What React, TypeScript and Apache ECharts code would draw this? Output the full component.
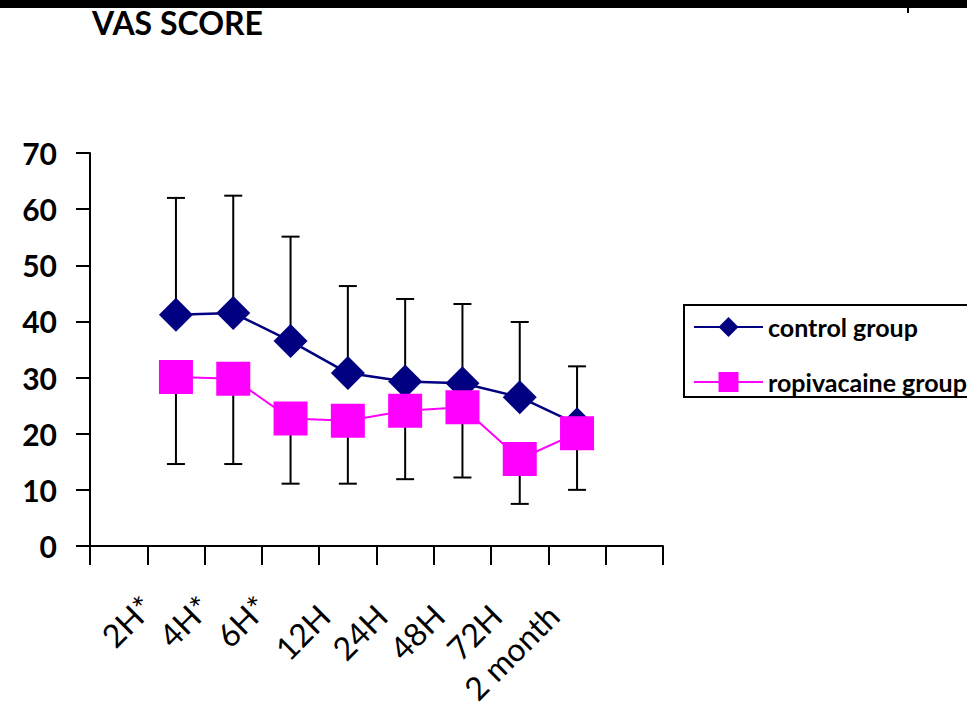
import React, { useEffect, useRef } from 'react';
import * as echarts from 'echarts';

// ---- data ----
const timepoints = ['2H*', '4H*', '6H*', '12H', '24H', '48H', '72H', '2 month'];
const controlMean = [41.2, 41.5, 36.5, 30.8, 29.3, 29.0, 26.5, 21.7];
const controlUpper = [62.0, 62.4, 55.1, 46.3, 44.0, 43.1, 39.9, 32.0];
const ropivacaineMean = [30.1, 29.8, 22.7, 22.3, 24.1, 24.7, 15.5, 20.1];
const ropivacaineLower = [14.6, 14.6, 11.1, 11.1, 11.9, 12.2, 7.5, 10.0];
const seriesNames = ['control group', 'ropivacaine group'];
const yMin = 0;
const yMax = 70;
const yStep = 10;
const titleText = 'VAS SCORE';

const NAVY = '#000080';
const MAGENTA = '#FF00FF';
const INK = '#000000';

// one empty slot on each side of the timepoints, as in the reference
const categories = ['', ...timepoints, ''];
const pad = (arr: number[]) => [null, ...arr, null];

function errorBars(mean: number[], bound: number[]) {
  return mean.map((m, i) => [i + 1, m, bound[i]]);
}

function renderErrorBar(_params: any, api: any) {
  const x = api.value(0);
  const a = api.coord([x, api.value(1)]);
  const b = api.coord([x, api.value(2)]);
  const half = 9;
  return {
    type: 'group',
    children: [
      { type: 'line', shape: { x1: a[0], y1: a[1], x2: b[0], y2: b[1] }, style: { stroke: INK, lineWidth: 2 } },
      { type: 'line', shape: { x1: b[0] - half, y1: b[1], x2: b[0] + half, y2: b[1] }, style: { stroke: INK, lineWidth: 2 } },
    ],
  };
}

export default function App() {
  const ref = useRef<HTMLDivElement>(null);

  useEffect(() => {
    if (!ref.current) return;
    const chart = echarts.init(ref.current, undefined, { renderer: 'svg' });
    const labelBase = {
      rotate: 45,
      interval: 0,
      color: INK,
      fontFamily: 'Lato',
      fontSize: 32,
    };
    chart.setOption({
      animation: false,
      backgroundColor: '#ffffff',
      title: {
        text: titleText,
        left: 92,
        top: 6,
        padding: 0,
        textStyle: { fontFamily: 'Lato', fontWeight: 'bold', fontSize: 32, color: INK },
      },
      graphic: [
        { type: 'rect', left: 0, top: 0, shape: { x: 0, y: 0, width: 967, height: 8 }, style: { fill: INK } },
        { type: 'rect', left: 907, top: 7, shape: { x: 0, y: 0, width: 2, height: 6 }, style: { fill: INK } },
      ],
      legend: {
        data: seriesNames,
        orient: 'vertical',
        left: 684,
        top: 305,
        padding: [7, 12, 0, 9],
        itemWidth: 69,
        itemHeight: 25,
        itemGap: 25,
        borderColor: INK,
        borderWidth: 2,
        textStyle: { fontFamily: 'Lato', fontWeight: 'bold', fontSize: 25, color: INK, lineHeight: 30 },
      },
      grid: { left: 90, top: 153, width: 573, height: 393, containLabel: false },
      xAxis: [
        {
          type: 'category',
          data: categories,
          boundaryGap: true,
          axisLine: { show: true, lineStyle: { color: INK, width: 2 } },
          axisTick: { show: true, interval: 0, length: 19, inside: false, lineStyle: { color: INK, width: 2 } },
          axisLabel: {
            ...labelBase,
            margin: 40,
            padding: [0, 34, 0, 0],
            formatter: (v: string) => (v.includes('*') ? '' : v),
          },
          splitLine: { show: false },
        },
        {
          type: 'category',
          data: categories,
          position: 'bottom',
          boundaryGap: true,
          axisLine: { show: false },
          axisTick: { show: false },
          axisLabel: {
            ...labelBase,
            margin: 26,
            padding: [0, 41, 0, 0],
            formatter: (v: string) => (v.includes('*') ? v : ''),
          },
          splitLine: { show: false },
        },
      ],
      yAxis: {
        type: 'value',
        min: yMin,
        max: yMax,
        interval: yStep,
        axisLine: { show: true, lineStyle: { color: INK, width: 2 } },
        axisTick: { show: true, length: 14, inside: false, lineStyle: { color: INK, width: 2 } },
        axisLabel: { color: INK, fontFamily: 'Lato', fontWeight: 'bold', fontSize: 30, margin: 33 },
        splitLine: { show: false },
      },
      series: [
        {
          type: 'custom',
          name: 'control error',
          xAxisIndex: 0,
          data: errorBars(controlMean, controlUpper),
          encode: { x: 0, y: [1, 2] },
          renderItem: renderErrorBar,
          z: 1,
          silent: true,
        },
        {
          type: 'custom',
          name: 'ropivacaine error',
          xAxisIndex: 0,
          data: errorBars(ropivacaineMean, ropivacaineLower),
          encode: { x: 0, y: [1, 2] },
          renderItem: renderErrorBar,
          z: 1,
          silent: true,
        },
        {
          type: 'line',
          name: seriesNames[0],
          xAxisIndex: 0,
          data: pad(controlMean),
          symbol: 'diamond',
          symbolSize: 34,
          lineStyle: { color: NAVY, width: 2.5 },
          itemStyle: { color: NAVY },
          z: 2,
        },
        {
          type: 'line',
          name: seriesNames[1],
          xAxisIndex: 0,
          data: pad(ropivacaineMean),
          symbol: 'rect',
          symbolSize: 34,
          lineStyle: { color: MAGENTA, width: 2 },
          itemStyle: { color: MAGENTA },
          z: 3,
        },
      ],
    });
    return () => chart.dispose();
  }, []);

  return (
    <div
      ref={ref}
      style={{ position: 'fixed', left: 0, top: 0, width: 967, height: 709, background: '#fff' }}
    />
  );
}
